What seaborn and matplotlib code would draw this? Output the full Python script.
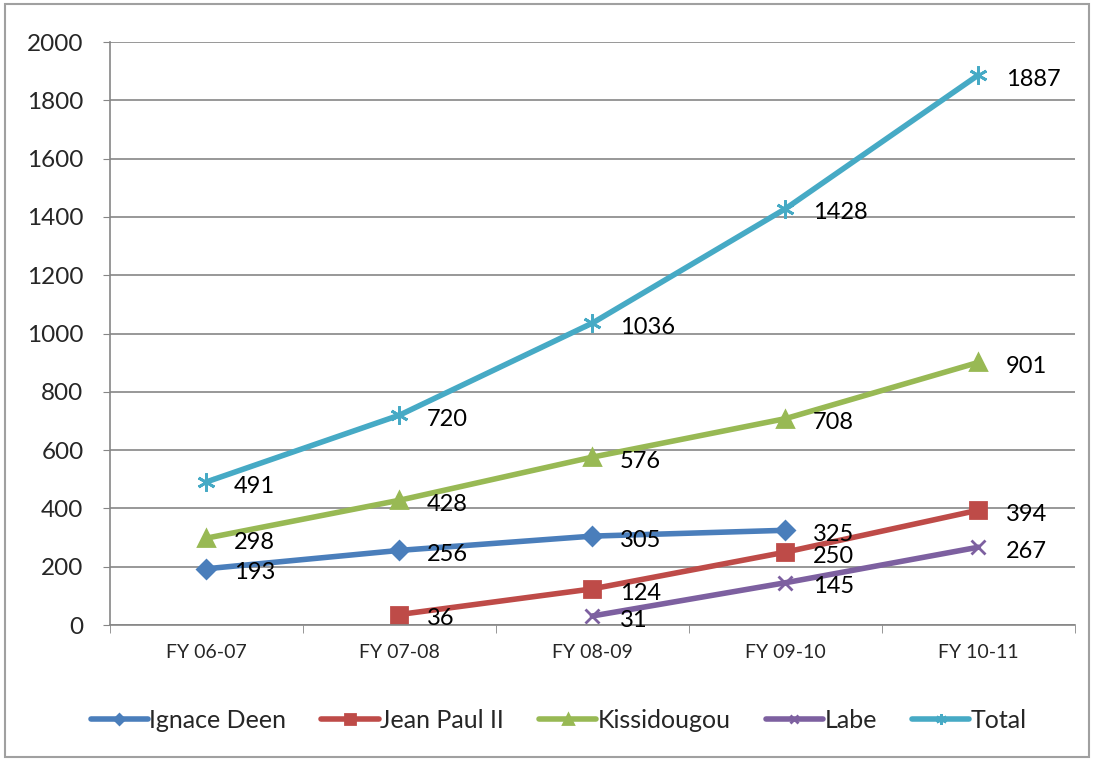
import numpy as np
import pandas as pd
import matplotlib
matplotlib.use("Agg")
import matplotlib.pyplot as plt
import seaborn as sns

# ── Data ─────────────────────────────────────────────────────────────────────
years        = ["FY 06-07", "FY 07-08", "FY 08-09", "FY 09-10", "FY 10-11"]
ignace_deen  = [193, 256, 305, 325, np.nan]
jean_paul    = [np.nan, 36, 124, 250, 394]
kissidougou  = [298, 428, 576, 708, 901]
labe         = [np.nan, np.nan, 31, 145, 267]
total        = [491, 720, 1036, 1428, 1887]

series_names = ["Ignace Deen", "Jean Paul II", "Kissidougou", "Labe", "Total"]
series_vals  = [ignace_deen, jean_paul, kissidougou, labe, total]

rows = []
for name, vals in zip(series_names, series_vals):
    for i, v in enumerate(vals):
        rows.append({"idx": i, "year": years[i], "series": name, "value": v})
df = pd.DataFrame(rows).dropna()

# ── Style ────────────────────────────────────────────────────────────────────
sns.set_style("white")
plt.rcParams["font.family"] = ["Lato", "DejaVu Sans"]

COLORS  = {"Ignace Deen": "#4A7EBB", "Jean Paul II": "#BE4B48",
           "Kissidougou": "#98B954", "Labe": "#7D60A0", "Total": "#46AAC5"}
MARKERS = {"Ignace Deen": "D", "Jean Paul II": "s", "Kissidougou": "^",
           "Labe": "x", "Total": (6, 2, 0)}
MSIZE   = {"Ignace Deen": 9, "Jean Paul II": 12, "Kissidougou": 11,
           "Labe": 10, "Total": 13}

fig = plt.figure(figsize=(10.94, 7.61), dpi=100)
ax = fig.add_axes([0.1005, 0.1787, 0.882, 0.766])

for name in series_names:
    d = df[df["series"] == name]
    sns.lineplot(data=d, x="idx", y="value", ax=ax, color=COLORS[name],
                 linewidth=4, marker=MARKERS[name], markersize=MSIZE[name],
                 markeredgecolor=COLORS[name], markeredgewidth=2,
                 label=name, estimator=None, sort=False)
    for _, r in d.iterrows():
        ax.annotate(f"{int(r['value'])}", xy=(r["idx"], r["value"]),
                    xytext=(20, -3), textcoords="offset points",
                    ha="left", va="center", fontsize=17, color="black")

ax.set_xlim(-0.5, 4.5)
ax.set_ylim(0, 2000)
ax.set_yticks(range(0, 2001, 200))
ax.set_xticks(range(len(years)))
ax.set_xticklabels(years, fontsize=14)
ax.tick_params(axis="y", labelsize=17.5, length=5, color="#868686", left=True, pad=14)
ax.tick_params(axis="x", length=0, pad=14)
ax.set_xticks([k - 0.5 for k in range(len(years) + 1)], minor=True)
ax.tick_params(axis="x", which="minor", length=6, color="#868686", bottom=True)
ax.set_xlabel("")
ax.set_ylabel("")
ax.grid(axis="y", color="#868686", linewidth=1.2)
ax.set_axisbelow(True)
for side in ["top", "right"]:
    ax.spines[side].set_visible(False)
for side in ["left", "bottom"]:
    ax.spines[side].set_color("#868686")
    ax.spines[side].set_linewidth(1.2)

ax.legend(loc="upper center", bbox_to_anchor=(0.465, -0.105), ncol=5,
          frameon=False, fontsize=18, handlelength=2.3, handletextpad=0.05,
          columnspacing=1.4, markerscale=0.6)

# outer chart frame
fig.patches.append(plt.Rectangle((0.005, 0.005), 0.99, 0.99, transform=fig.transFigure,
                                 fill=False, edgecolor="#A0A0A0", linewidth=1.5))

fig.savefig("out.png", dpi=100, facecolor="white")
